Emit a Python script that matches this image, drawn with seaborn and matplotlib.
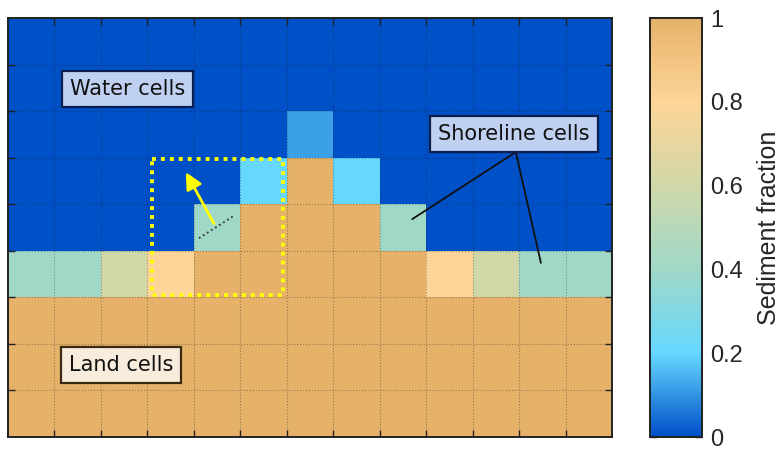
import numpy as np
import matplotlib
matplotlib.use("Agg")
import matplotlib.pyplot as plt
from matplotlib.colors import LinearSegmentedColormap
from matplotlib.patches import Rectangle
import seaborn as sns

# sediment fraction per cell, top row first (13 columns x 9 rows)
row0 = [0, 0, 0, 0, 0, 0, 0, 0, 0, 0, 0, 0, 0]
row1 = [0, 0, 0, 0, 0, 0, 0, 0, 0, 0, 0, 0, 0]
row2 = [0, 0, 0, 0, 0, 0, 0.12, 0, 0, 0, 0, 0, 0]
row3 = [0, 0, 0, 0, 0, 0.2, 1, 0.2, 0, 0, 0, 0, 0]
row4 = [0, 0, 0, 0, 0.4, 1, 1, 1, 0.4, 0, 0, 0, 0]
row5 = [0.4, 0.4, 0.6, 0.8, 1, 1, 1, 1, 1, 0.8, 0.6, 0.4, 0.4]
row6 = [1] * 13
row7 = [1] * 13
row8 = [1] * 13
grid = np.array([row0, row1, row2, row3, row4, row5, row6, row7, row8])

cbar_ticks = [0, 0.2, 0.4, 0.6, 0.8, 1]
cbar_labels = ["0", "0.2", "0.4", "0.6", "0.8", "1"]

cmap = LinearSegmentedColormap.from_list(
    "sediment",
    [(0.0, "#0050c8"), (0.2, "#66d8ff"), (0.4, "#a0d8c8"),
     (0.6, "#d0d8a8"), (0.8, "#fdd598"), (1.0, "#e6b26a")])

sns.set_style("ticks")
plt.rcParams["font.family"] = ["DejaVu Sans"]

fig = plt.figure(figsize=(7.82, 4.49), dpi=100)
ax = fig.add_axes([8 / 782, 12 / 449, 604 / 782, 419 / 449])
cax = fig.add_axes([650 / 782, 12 / 449, 52 / 782, 419 / 449])

sns.heatmap(grid, cmap=cmap, vmin=0, vmax=1, ax=ax, cbar_ax=cax,
            xticklabels=False, yticklabels=False,
            cbar_kws={"ticks": cbar_ticks})

# cell grid and inward ticks
ax.set_xticks(np.arange(1, 13))
ax.set_yticks(np.arange(1, 9))
ax.set_xticklabels([])
ax.set_yticklabels([])
ax.tick_params(direction="in", length=5, width=1, color="#222222",
               top=True, right=True, bottom=True, left=True)
ax.grid(True, color="#222222", linestyle=":", linewidth=0.8, alpha=0.4)
ax.set_axisbelow(False)
for s in ax.spines.values():
    s.set_visible(True)
    s.set_linewidth(1.4)
    s.set_color("#222222")

# highlighted neighbourhood
ax.add_patch(Rectangle((3.1, 3.03), 2.82, 2.92, fill=False,
                       edgecolor="#ffff00", linestyle=(0, (1, 1.3)),
                       linewidth=2.8, zorder=5))
ax.annotate("", xy=(3.8, 3.26), xytext=(4.46, 4.47),
            arrowprops=dict(arrowstyle="-|>,head_length=1.0,head_width=0.5",
                            color="#ffff00", lw=2), zorder=6)
ax.plot([4.11, 4.86], [4.73, 4.25], linestyle=":", color="#333333",
        linewidth=1.3, zorder=6)

# labels
box_font = 15
ax.text(2.57, 1.52, "Water cells", fontsize=box_font, ha="center",
        va="center", color="#111111",
        bbox=dict(boxstyle="square,pad=0.38", facecolor="#bfd0f0",
                  edgecolor="#0a1e50", linewidth=1.6), zorder=7)
ax.text(2.43, 7.45, "Land cells", fontsize=box_font, ha="center",
        va="center", color="#111111",
        bbox=dict(boxstyle="square,pad=0.38", facecolor="#f8ecdd",
                  edgecolor="#3a2a10", linewidth=1.6), zorder=7)
ax.plot([10.93, 8.70], [2.88, 4.32], color="#111111", linewidth=1.3, zorder=6)
ax.plot([10.93, 11.47], [2.88, 5.26], color="#111111", linewidth=1.3, zorder=6)
ax.text(10.89, 2.49, "Shoreline cells", fontsize=box_font, ha="center",
        va="center", color="#111111",
        bbox=dict(boxstyle="square,pad=0.38", facecolor="#bfd0f0",
                  edgecolor="#0a1e50", linewidth=1.6), zorder=7)

# colorbar
cax.set_yticks(cbar_ticks)
cax.set_yticklabels(cbar_labels, family=["Liberation Sans", "DejaVu Sans"])
cax.tick_params(direction="in", length=5, width=1, labelsize=17,
                left=True, right=True, color="#222222", pad=6)
cax.set_ylabel("Sediment fraction", fontsize=18,
               family=["Liberation Sans", "DejaVu Sans"], labelpad=10)
for s in cax.spines.values():
    s.set_visible(True)
    s.set_linewidth(1.2)
    s.set_color("#222222")

fig.savefig("out.png", dpi=100)
